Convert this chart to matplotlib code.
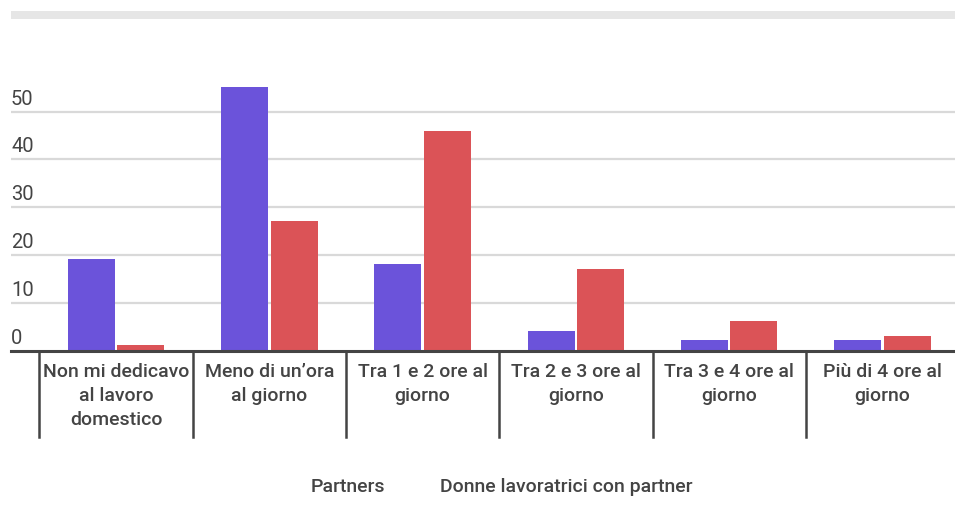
import matplotlib
matplotlib.use("Agg")
import matplotlib.pyplot as plt
import numpy as np
from matplotlib.patches import Rectangle

plt.rcParams['font.family'] = ['Roboto', 'DejaVu Sans']

categories = ["Non mi dedicavo\nal lavoro\ndomestico", "Meno di un’ora\nal giorno",
              "Tra 1 e 2 ore al\ngiorno", "Tra 2 e 3 ore al\ngiorno",
              "Tra 3 e 4 ore al\ngiorno", "Più di 4 ore al\ngiorno"]
series_names = ["Partners", "Donne lavoratrici con partner"]
partners = [19.2, 55.1, 18.2, 4.1, 2.2, 2.2]
donne = [1.1, 27.2, 46.0, 17.1, 6.2, 3.0]
y_ticks = [0, 10, 20, 30, 40, 50]

PURPLE = "#6B53DA"
RED = "#DB5357"
TXT = "#444444"

W, H = 955, 511
fig = plt.figure(figsize=(W/100, H/100), dpi=100)

ax_left, ax_right = 11, 955
base_y, top_y = 350.5, 64
ax = fig.add_axes([ax_left/W, 1 - base_y/H, (ax_right-ax_left)/W, (base_y-top_y)/H])

step = 153.3
x0 = (ax_left - 116) / step
x1 = (ax_right - 116) / step
ax.set_xlim(x0, x1)
ax.set_ylim(0, 60)

x = np.arange(len(categories))
bw = 47 / step
gap = 2.5 / step
ax.bar(x - bw/2 - gap/2, partners, width=bw, color=PURPLE, zorder=3)
ax.bar(x + bw/2 + gap/2, donne, width=bw, color=RED, zorder=3)

for s in ax.spines.values():
    s.set_visible(False)
ax.set_xticks([])
ax.set_yticks([])

for t in y_ticks:
    if t > 0:
        ax.axhline(t, color="#d9d9d9", lw=1.6, zorder=1)
    ax.annotate(str(t), xy=(0, t), xycoords=ax.get_yaxis_transform(),
                xytext=(0, 3), textcoords="offset pixels",
                ha="left", va="bottom", fontsize=14.5, color=TXT)
ax.axhline(0, color="#444444", lw=2.2, zorder=4, clip_on=False)

div_bottom = -(437 - base_y) / (base_y - top_y)
for i in range(len(categories) + 1):
    ax.plot([i - 0.5, i - 0.5], [0, div_bottom], transform=ax.get_xaxis_transform(),
            color="#444444", lw=1.8, clip_on=False, zorder=4)

for i, c in enumerate(categories):
    ax.annotate(c, xy=(i, 0), xycoords=("data", "axes fraction"),
                xytext=(0, -12), textcoords="offset pixels",
                ha="center", va="top", fontsize=14, color=TXT, linespacing=1.45,
                fontweight="medium")

fig.patches.append(Rectangle((11/W, 1 - 19/H), (955-11)/W, 8/H, transform=fig.transFigure,
                             facecolor="#e6e6e6", edgecolor="none"))

fig.text(311/W, 1 - 487/H, series_names[0], ha="left", va="center", fontsize=14,
         color=TXT, fontweight="medium")
fig.text(440/W, 1 - 487/H, series_names[1], ha="left", va="center", fontsize=14,
         color=TXT, fontweight="medium")

fig.savefig("out.png", dpi=100)
